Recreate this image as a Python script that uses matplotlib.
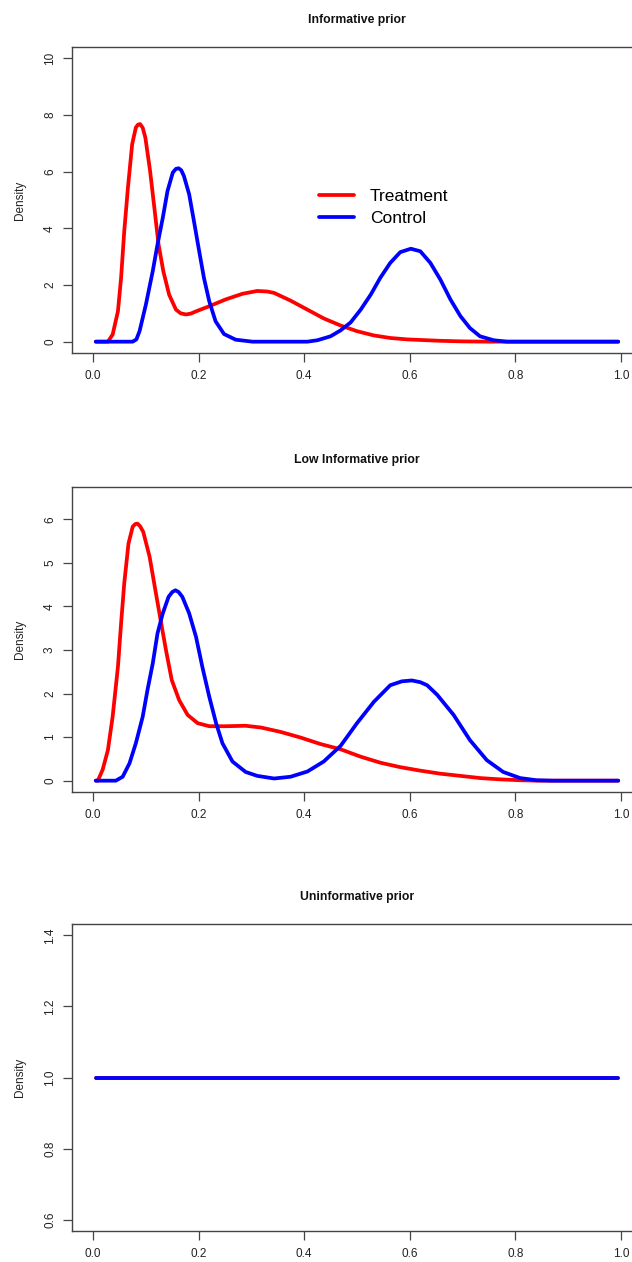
import matplotlib
matplotlib.use("Agg")
import matplotlib.pyplot as plt

plt.rcParams['font.family'] = ['Liberation Sans', 'DejaVu Sans']

# ---------------- data ----------------
titles = ["Informative prior", "Low Informative prior", "Uninformative prior"]
series_names = ["Treatment", "Control"]
x_ticks = [0.0, 0.2, 0.4, 0.6, 0.8, 1.0]
x_tick_labels = ["0.0", "0.2", "0.4", "0.6", "0.8", "1.0"]
y_ticks_1 = [0, 2, 4, 6, 8, 10]
y_ticks_2 = [0, 1, 2, 3, 4, 5, 6]
y_ticks_3 = [0.6, 0.8, 1.0, 1.2, 1.4]
y_tick_labels_3 = ["0.6", "0.8", "1.0", "1.2", "1.4"]

# Panel 1: Informative prior
inf_treat_x = [0.005, 0.028, 0.037, 0.047, 0.053, 0.059, 0.066, 0.074, 0.081, 0.085, 0.089,
               0.094, 0.099, 0.108, 0.116, 0.124, 0.133, 0.144, 0.157, 0.166, 0.176,
               0.185, 0.195, 0.220, 0.251, 0.283, 0.311, 0.330, 0.343, 0.374, 0.406,
               0.437, 0.469, 0.500, 0.532, 0.563, 0.595, 0.620, 0.658, 0.700, 0.750, 0.995]
inf_treat_y = [0.0, 0.0, 0.25, 1.07, 2.25, 3.90, 5.44, 6.97, 7.56, 7.66, 7.68,
               7.55, 7.20, 6.02, 4.73, 3.43, 2.49, 1.66, 1.13, 1.00, 0.96,
               0.99, 1.07, 1.25, 1.49, 1.69, 1.79, 1.77, 1.72, 1.45, 1.13,
               0.82, 0.57, 0.37, 0.22, 0.13, 0.08, 0.06, 0.03, 0.01, 0.0, 0.0]
inf_ctrl_x = [0.005, 0.075, 0.082, 0.088, 0.100, 0.113, 0.122, 0.132, 0.141, 0.151,
              0.157, 0.162, 0.167, 0.172, 0.182, 0.191, 0.201, 0.210, 0.220, 0.232,
              0.248, 0.270, 0.302, 0.406, 0.425, 0.450, 0.469, 0.488, 0.507, 0.526,
              0.544, 0.563, 0.582, 0.602, 0.620, 0.639, 0.658, 0.677, 0.696, 0.714,
              0.733, 0.759, 0.784, 0.995]
inf_ctrl_y = [0.0, 0.0, 0.08, 0.37, 1.31, 2.49, 3.43, 4.37, 5.32, 5.97,
              6.10, 6.12, 6.05, 5.85, 5.20, 4.26, 3.19, 2.25, 1.43, 0.72,
              0.27, 0.07, 0.0, 0.0, 0.05, 0.19, 0.40, 0.68, 1.13, 1.66,
              2.25, 2.78, 3.16, 3.28, 3.19, 2.78, 2.19, 1.49, 0.90, 0.48,
              0.19, 0.05, 0.0, 0.0]

# Panel 2: Low Informative prior
low_treat_x = [0.005, 0.009, 0.018, 0.028, 0.037, 0.047, 0.053, 0.059, 0.067, 0.075,
               0.080, 0.084, 0.089, 0.095, 0.107, 0.118, 0.129, 0.138, 0.149, 0.163, 0.179, 0.198,
               0.220, 0.251, 0.289, 0.318, 0.355, 0.393, 0.431, 0.469, 0.507, 0.545,
               0.582, 0.620, 0.658, 0.696, 0.733, 0.771, 0.809, 0.840, 0.995]
low_treat_y = [0.0, 0.0, 0.25, 0.70, 1.47, 2.61, 3.61, 4.53, 5.44, 5.83,
               5.89, 5.90, 5.84, 5.71, 5.14, 4.37, 3.61, 3.00, 2.31, 1.85, 1.51, 1.32,
               1.25, 1.25, 1.26, 1.22, 1.12, 0.99, 0.84, 0.72, 0.55, 0.41,
               0.31, 0.23, 0.16, 0.11, 0.06, 0.03, 0.01, 0.0, 0.0]
low_ctrl_x = [0.005, 0.043, 0.056, 0.069, 0.081, 0.094, 0.103, 0.113, 0.122, 0.132,
              0.143, 0.150, 0.156, 0.162, 0.169, 0.182, 0.195, 0.207, 0.220, 0.233,
              0.245, 0.264, 0.289, 0.311, 0.343, 0.374, 0.406, 0.437, 0.469, 0.500,
              0.532, 0.563, 0.585, 0.604, 0.620, 0.633, 0.652, 0.683, 0.714, 0.746,
              0.777, 0.809, 0.840, 0.870, 0.995]
low_ctrl_y = [0.0, 0.0, 0.09, 0.40, 0.86, 1.47, 2.08, 2.69, 3.38, 3.84,
              4.22, 4.33, 4.37, 4.33, 4.22, 3.84, 3.30, 2.61, 1.93, 1.32,
              0.86, 0.44, 0.20, 0.11, 0.05, 0.09, 0.21, 0.44, 0.80, 1.32,
              1.81, 2.19, 2.28, 2.30, 2.26, 2.19, 1.97, 1.51, 0.93, 0.47,
              0.20, 0.06, 0.01, 0.0, 0.0]

# Panel 3: Uninformative prior
uni_treat_x = [0.005, 0.995]
uni_treat_y = [1.0, 1.0]
uni_ctrl_x = [0.005, 0.995]
uni_ctrl_y = [1.0, 1.0]

# ---------------- figure ----------------
W, H = 632, 1262
fig = plt.figure(figsize=(W / 100, H / 100), dpi=100)

def px_axes(top, bottom, left=72, right=642):
    return [left / W, 1 - bottom / H, (right - left) / W, (bottom - top) / H]

axes_boxes = [px_axes(47, 353), px_axes(487, 792), px_axes(924, 1231)]
ylims = [(-0.4, 10.4), (-0.26, 6.74), (0.568, 1.432)]
yticks_all = [y_ticks_1, y_ticks_2, y_ticks_3]
ylabels_all = [[str(v) for v in y_ticks_1], [str(v) for v in y_ticks_2], y_tick_labels_3]
data = [
    (inf_treat_x, inf_treat_y, inf_ctrl_x, inf_ctrl_y),
    (low_treat_x, low_treat_y, low_ctrl_x, low_ctrl_y),
    (uni_treat_x, uni_treat_y, uni_ctrl_x, uni_ctrl_y),
]

edge = '#444444'
txt = '#222222'
lw = 2.7

for i, box in enumerate(axes_boxes):
    ax = fig.add_axes(box)
    tx, ty, cx, cy = data[i]
    ax.plot(tx, ty, color='#ff0000', lw=lw, solid_joinstyle='round',
            solid_capstyle='round', label=series_names[0])
    ax.plot(cx, cy, color='#0000ff', lw=lw, solid_joinstyle='round',
            solid_capstyle='round', label=series_names[1])
    ax.set_xlim(-0.04, 1.04)
    ax.set_ylim(*ylims[i])
    ax.set_xticks(x_ticks)
    ax.set_xticklabels(x_tick_labels)
    ax.set_yticks(yticks_all[i])
    ax.set_yticklabels(ylabels_all[i], rotation=90, va='center')
    for s in ax.spines.values():
        s.set_color(edge)
        s.set_linewidth(1.0)
    ax.tick_params(axis='both', direction='out', length=6.5, width=0.9,
                   color=edge, labelcolor=txt, labelsize=8.5)
    ax.tick_params(axis='x', pad=6)
    ax.tick_params(axis='y', pad=5)
    ax.set_ylabel("Density", fontsize=8.5, color=txt)
    ax.yaxis.set_label_coords(-0.08, 0.5)
    ax.set_title(titles[i], fontsize=8.8, fontweight='bold', color='#111111', pad=17)
    if i == 0:
        ax.legend(loc='upper left', bbox_to_anchor=(0.434, 0.535), frameon=False,
                  fontsize=12.5, handlelength=2.0, handletextpad=0.9,
                  labelspacing=0.38, borderpad=0, borderaxespad=0)

fig.savefig("out.png", dpi=100)
